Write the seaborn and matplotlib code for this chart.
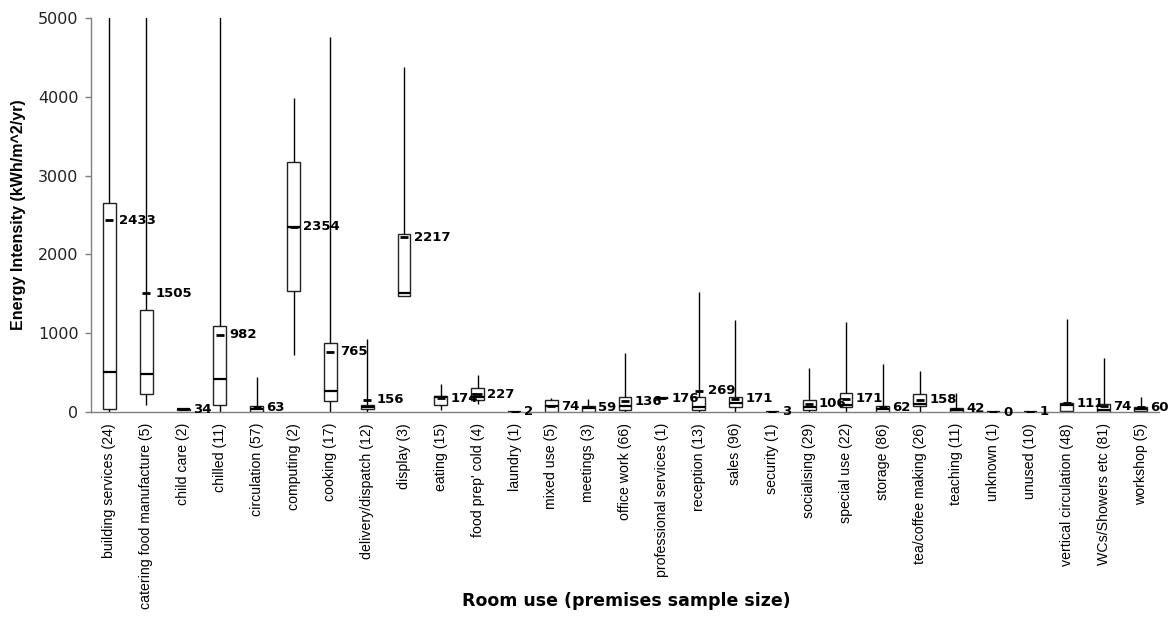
import numpy as np
import pandas as pd
import matplotlib
matplotlib.use("Agg")
import matplotlib.pyplot as plt
import seaborn as sns

categories = ["building services", "catering food manufacture", "child care", "chilled",
              "circulation", "computing", "cooking", "delivery/dispatch", "display",
              "eating", "food prep' cold", "laundry", "mixed use", "meetings",
              "office work", "professional services", "reception", "sales", "security",
              "socialising", "special use", "storage", "tea/coffee making", "teaching",
              "unknown", "unused", "vertical circulation", "WCs/Showers etc", "workshop"]
sample_sizes = [24, 5, 2, 11, 57, 2, 17, 12, 3, 15, 4, 1, 5, 3, 66, 1, 13, 96, 1,
                29, 22, 86, 26, 11, 1, 10, 48, 81, 5]
whisker_low = [0, 89, 28, 0, 0, 723, 0, 0, 1476, 25, 98, 2, 0, 0, 0, 176, 0, 0, 3,
               0, 0, 0, 0, 0, 0, 1, 0, 0, 0]
q1_vals = [35, 228, 30, 89, 5, 1540, 140, 34, 1476, 89, 152, 2, 4, 0, 25, 176, 25, 67, 3,
           25, 60, 4, 80, 4, 0, 1, 17, 4, 17]
median_vals = [511, 482, 34, 415, 40, 2352, 270, 60, 1506, 186, 194, 2, 76, 47, 76, 176, 60, 118, 3,
               67, 89, 34, 101, 25, 0, 1, 93, 25, 34]
q3_vals = [2656, 1294, 38, 1087, 80, 3169, 872, 89, 2255, 203, 308, 2, 152, 76, 194, 176, 194, 194, 3,
           152, 245, 80, 228, 51, 0, 1, 110, 98, 60]
whisker_high = [5600, 5600, 40, 5600, 448, 3981, 4755, 922, 4382, 355, 470, 2, 174, 161, 745, 176, 1519, 1168, 3,
                555, 1146, 609, 520, 245, 0, 1, 1180, 681, 194]
mean_vals = [2433, 1505, 34, 982, 63, 2354, 765, 156, 2217, 174, 227, 2, 74, 59, 136, 176, 269, 171, 3,
             106, 171, 62, 158, 42, 0, 1, 111, 74, 60]

labels = [f"{c} ({n})" for c, n in zip(categories, sample_sizes)]

rows = []
for lab, lo, a, m, b, hi in zip(labels, whisker_low, q1_vals, median_vals, q3_vals, whisker_high):
    for v in (lo, a, m, b, hi):
        rows.append({"room": lab, "kwh": v})
df = pd.DataFrame(rows)

sns.set_style("white")
plt.rcParams["text.color"] = "black"
plt.rcParams["xtick.color"] = "black"
plt.rcParams["ytick.color"] = "#222222"

fig = plt.figure(figsize=(11.76, 6.17), dpi=100)
ax = fig.add_axes([91 / 1176, 1 - 412 / 617, (1159 - 91) / 1176, (412 - 18) / 617])

sns.boxplot(data=df, x="room", y="kwh", order=labels, whis=(0, 100), width=0.35,
            color="white", linecolor="#222222", linewidth=1.0, showcaps=False,
            fliersize=0, medianprops=dict(color="black", linewidth=1.6),
            whiskerprops=dict(color="black", linewidth=1.0), ax=ax)

pos = np.arange(len(labels))
ax.plot(pos, mean_vals, ls="none", marker="_", ms=6, mew=2, color="black", zorder=5)
for x, m in zip(pos, mean_vals):
    ax.annotate(f"{m}", (x, m), xytext=(7, 0), textcoords="offset points",
                ha="left", va="center", fontsize=9.5, fontweight="bold",
                family="DejaVu Sans", color="black", zorder=6, annotation_clip=False)

ax.set_ylim(0, 5000)
ax.set_xlim(-0.5, len(labels) - 0.5)
ax.set_yticks(np.arange(0, 5001, 1000))
ax.set_yticklabels([str(v) for v in range(0, 5001, 1000)], family="DejaVu Sans", fontsize=11.5)
ax.set_xticks(pos)
ax.set_xticklabels(labels, rotation=90, family="Liberation Sans", fontsize=10.2)
ax.set_xticks(np.arange(-0.5, len(labels), 1.0), minor=True)
ax.tick_params(axis="x", which="major", length=0, pad=8)
ax.tick_params(axis="x", which="minor", length=4, direction="out", color="#7f7f7f", width=1)
ax.tick_params(axis="y", length=4, direction="out", color="#7f7f7f", width=1, left=True, pad=5)
ax.set_xlabel("")
ax.set_ylabel("")
for s in ["top", "right"]:
    ax.spines[s].set_visible(False)
for s in ["left", "bottom"]:
    ax.spines[s].set_color("#7f7f7f")
    ax.spines[s].set_linewidth(1)

fig.text(626 / 1176, 1 - 601 / 617, "Room use (premises sample size)", ha="center", va="center",
         fontsize=12.5, fontweight="bold", family="DejaVu Sans", color="black")
fig.text(19 / 1176, 1 - 215 / 617, "Energy Intensity (kWh/m^2/yr)", ha="center", va="center",
         rotation=90, fontsize=11.5, fontweight="bold", family="Liberation Sans", color="black")

fig.savefig("out.png", dpi=100)
